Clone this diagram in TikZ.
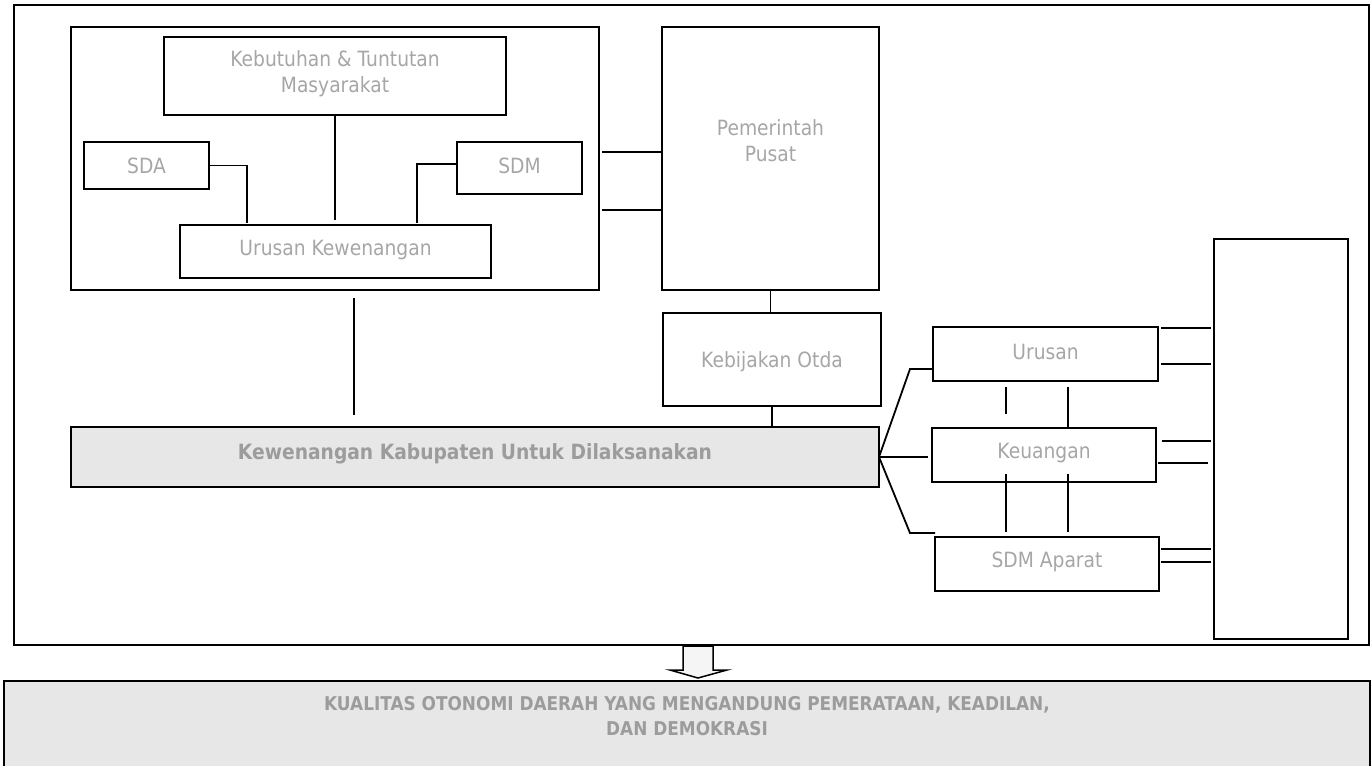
\documentclass[tikz,border=0pt]{standalone}
\usepackage{fontspec}
\setmainfont{DejaVu Sans}[FakeStretch=0.89]
\usetikzlibrary{fit}
\definecolor{txtgray}{HTML}{A6A6A6}
\definecolor{boldgray}{HTML}{9C9C9C}
\definecolor{boxfill}{HTML}{E7E7E7}
\begin{document}
\begin{tikzpicture}[x=1pt,y=-1pt, line width=1.8pt,
  box/.style={draw=black, rectangle, inner sep=0pt, outer sep=0pt},
  shaded/.style={box, fill=boxfill},
  lbl/.style={text=txtgray, font=\fontsize{21}{26}\selectfont, align=center, inner sep=0pt},
  blbl/.style={text=boldgray, font=\fontsize{21}{26}\selectfont\bfseries, align=center, inner sep=0pt},
  ln/.style={line width=1.8pt, line cap=butt}
]
\useasboundingbox (0,0) rectangle (1371,766);

% frames and boxes
\node[box, fit={(14,5)(1369,645)}] (outer) {};
\node[box, fit={(71,27)(599,290)}] (inner) {};
\node[box, fit={(164,37)(506,115)}] (keb) {};
\node[box, fit={(84,142)(209,189)}] (sda) {};
\node[box, fit={(457,142)(582,194)}] (sdm) {};
\node[box, fit={(180,225)(491,278)}] (uk) {};
\node[box, fit={(662,27)(879,290)}] (pp) {};
\node[box, fit={(663,313)(881,406)}] (ko) {};
\node[shaded, fit={(71,427)(879,487)}] (kk) {};
\node[box, fit={(933,327)(1158,381)}] (ur) {};
\node[box, fit={(932,428)(1156,482)}] (ke) {};
\node[box, fit={(935,537)(1159,591)}] (sa) {};
\node[box, fit={(1214,239)(1348,639)}] (rb) {};
\node[fill=boxfill, inner sep=0pt, outer sep=0pt, fit={(4,681)(1370,766)}] (bot) {};
\draw[ln] (bot.south west) |- (bot.north east) -- (bot.south east);

% labels
\node[lbl] (tkeb) at (335,74) {Kebutuhan \& Tuntutan\\Masyarakat};
\node[lbl] (tsda) at (146.5,166) {SDA};
\node[lbl] (tsdm) at (519.5,166) {SDM};
\node[lbl] (tuk) at (335.5,250) {Urusan Kewenangan};
\node[lbl] (tpp) at (770.5,141) {Pemerintah\\Pusat};
\node[lbl] (tko) at (772,362) {Kebijakan Otda};
\node[blbl] (tkk) at (475,454) {Kewenangan Kabupaten Untuk Dilaksanakan};
\node[lbl] (tur) at (1045.5,352) {Urusan};
\node[lbl] (tke) at (1044,453) {Keuangan};
\node[lbl] (tsa) at (1047,562) {SDM Aparat};
\node[blbl, font=\fontsize{19}{25}\selectfont\bfseries] (tbot) at (687,716) {KUALITAS OTONOMI DAERAH YANG MENGANDUNG PEMERATAAN, KEADILAN,\\DAN DEMOKRASI};

% free ends
\coordinate (c1) at (335,220);
\coordinate (c2) at (247,223);
\coordinate (c3) at (417,223);
\coordinate (c4) at (354,298);
\coordinate (c5) at (354,415);
\coordinate (f1) at (910,369);
\coordinate (f2) at (928,457);
\coordinate (f3) at (910,533);
\coordinate (f4) at (935,533);

% left group connectors
\draw[ln] (keb.south -| c1) -- (c1);
\draw[ln] (sda.east) -| (c2);
\draw[ln] ([yshift=4pt]sdm.west) -| (c3);
\draw[ln] ([xshift=3pt]inner.east |- 0,152) -- (pp.west |- 0,152);
\draw[ln] ([xshift=3pt]inner.east |- 0,210) -- (pp.west |- 0,210);
\draw[ln] (c4) -- (c5);
\draw[ln] (pp.south) -- (ko.north -| pp.south);
\draw[ln] (ko.south) -- (ko.south |- kk.north);

% fan
\draw[ln, line join=miter] (kk.east) -- (f1) -- (ur.west |- f1);
\draw[ln] (kk.east) -- (f2);
\draw[ln, line join=miter] (kk.east) -- (f3) -- (f4);

% verticals between right boxes
\coordinate (v1a) at (1006,387);
\coordinate (v1b) at (1006,414);
\coordinate (v2a) at (1068,387);
\coordinate (v3a) at (1006,474);
\coordinate (v3b) at (1006,532);
\coordinate (v4a) at (1068,474);
\coordinate (v4b) at (1068,532);
\draw[ln] (v1a) -- (v1b);
\draw[ln] (v2a) -- (ke.north -| v2a);
\draw[ln] (v3a) -- (v3b);
\draw[ln] (v4a) -- (v4b);

% double lines to right box
\draw[ln] ([xshift=3pt]ur.east |- 0,328) -- ([xshift=-3pt]rb.west |- 0,328);
\draw[ln] ([xshift=3pt]ur.east |- 0,364) -- ([xshift=-3pt]rb.west |- 0,364);
\draw[ln] ([xshift=6pt]ke.east |- 0,441) -- ([xshift=-3pt]rb.west |- 0,441);
\draw[ln] ([xshift=2pt]ke.east |- 0,463) -- ([xshift=-6pt]rb.west |- 0,463);
\draw[ln] ([xshift=2pt]sa.east |- 0,549) -- ([xshift=-3pt]rb.west |- 0,549);
\draw[ln] ([xshift=2pt]sa.east |- 0,562) -- ([xshift=-3pt]rb.west |- 0,562);

% block arrow
\draw[line width=1.5pt, fill=gray!8, line join=miter]
  (683,646) -- (713,646) -- (713,670) -- (727,670) -- (698,678) -- (670,670) -- (683,670) -- cycle;
\end{tikzpicture}
\end{document}
